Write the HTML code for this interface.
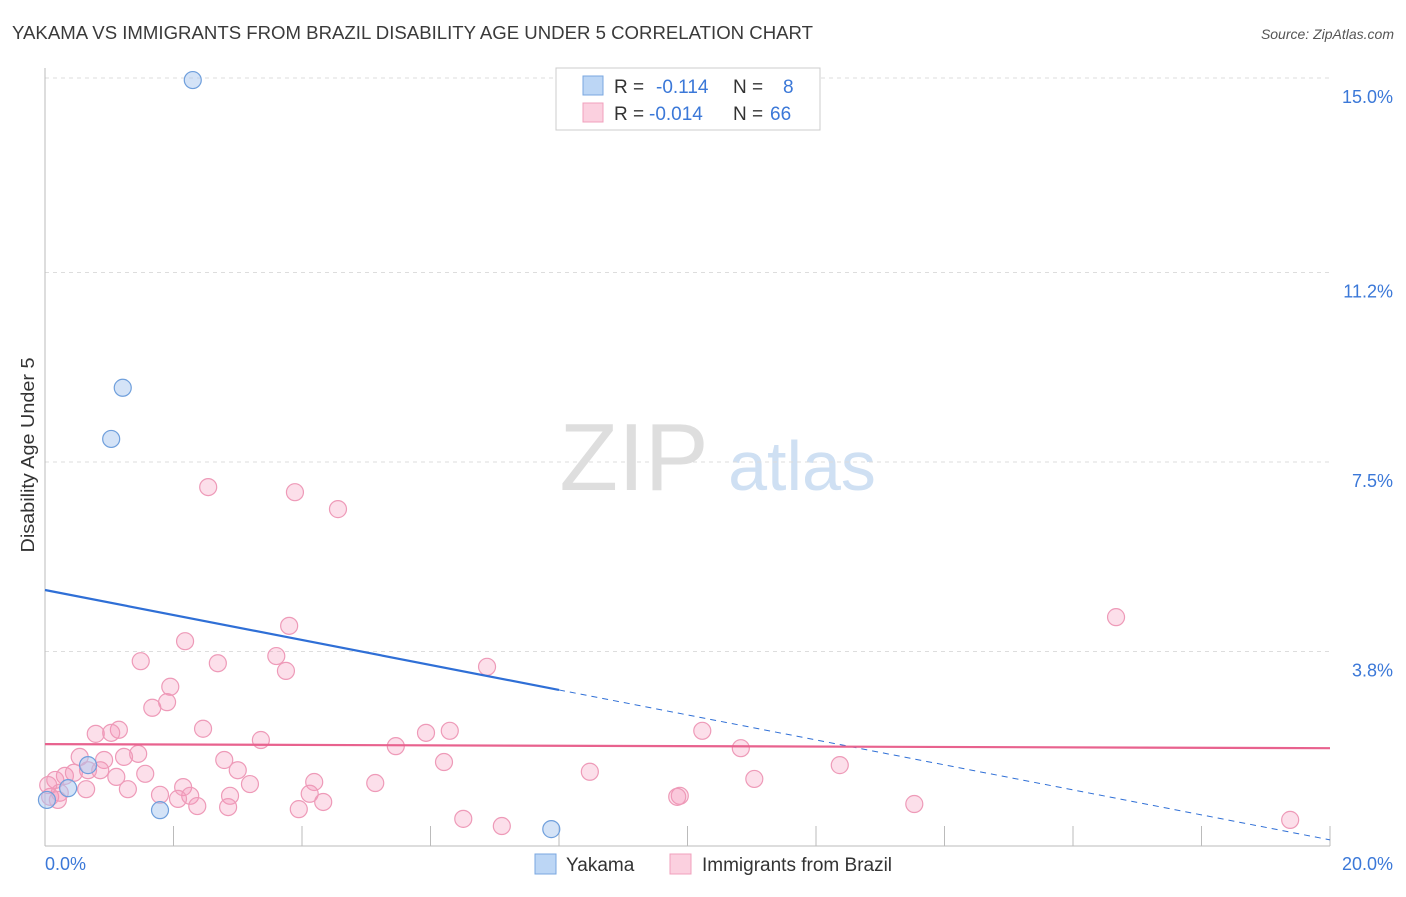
<!DOCTYPE html>
<html><head><meta charset="utf-8"><style>
body{margin:0;background:#fff;font-family:"Liberation Sans",sans-serif;}
svg text{font-family:"Liberation Sans",sans-serif;}
</style></head><body>
<svg id="chart" width="1406" height="892" xmlns="http://www.w3.org/2000/svg">
<text x="12" y="39" font-size="18" textLength="801" lengthAdjust="spacingAndGlyphs" fill="#3a3a3a">YAKAMA VS IMMIGRANTS FROM BRAZIL DISABILITY AGE UNDER 5 CORRELATION CHART</text>
<text x="1394" y="39" font-size="14" fill="#555" font-style="italic" text-anchor="end">Source: ZipAtlas.com</text>
<g>
<text x="634" y="490" font-size="96" fill="#dedede" font-family="Liberation Serif" text-anchor="middle">ZIP</text>
<text x="802" y="490" font-size="70" fill="#cfe0f3" text-anchor="middle">atlas</text>
</g>
<g id="grid"></g>
<g id="axes"></g>
<g id="marks"></g>
<text transform="translate(34,455) rotate(-90)" font-size="18" textLength="195" lengthAdjust="spacingAndGlyphs" fill="#333" text-anchor="middle">Disability Age Under 5</text>
<g>
<rect x="556" y="68" width="264" height="62" fill="#fff" stroke="#ccc"/>
<rect x="583" y="76" width="20" height="19" fill="#bcd6f5" stroke="#7aa7e0"/>
<rect x="583" y="103" width="20" height="19" fill="#fbd0df" stroke="#f0a0bc"/>
<text x="614" y="93" font-size="19" fill="#333">R =</text><text x="656" y="93" font-size="19" fill="#3b78d8">-0.114</text>
<text x="733" y="93" font-size="19" fill="#333">N =</text><text x="783" y="93" font-size="19" fill="#3b78d8">8</text>
<text x="614" y="120" font-size="19" fill="#333">R =</text><text x="649" y="120" font-size="19" fill="#3b78d8">-0.014</text>
<text x="733" y="120" font-size="19" fill="#333">N =</text><text x="770" y="120" font-size="19" fill="#3b78d8">66</text>
</g>
<g>
<rect x="535" y="854" width="21" height="20" fill="#bcd6f5" stroke="#7aa7e0"/>
<text x="566" y="871" font-size="19" fill="#333">Yakama</text>
<rect x="670" y="854" width="21" height="20" fill="#fbd0df" stroke="#f0a0bc"/>
<text x="702" y="871" font-size="19" fill="#333">Immigrants from Brazil</text>
</g>
</svg>
<script>
const yTicks=[15.0,11.2,7.5,3.8];
const yTickLabels=["15.0%","11.2%","7.5%","3.8%"];
const xTickLabels=["0.0%","20.0%"];
const yakamaX=[2.30,1.21,1.03,0.67,0.36,0.03,1.79,7.88];
const yakamaY=[14.96,8.95,7.95,1.58,1.13,0.90,0.70,0.33];
const brazilX=[2.54,3.89,4.56,16.67,3.80,2.18,1.49,2.69,3.60,3.75,6.88,1.95,1.90,1.67,2.46,1.15,0.79,1.03,6.30,5.93,10.23,3.36,5.46,10.83,1.45,1.23,0.54,2.79,0.92,6.21,12.37,3.00,1.56,8.48,0.31,1.11,0.45,0.16,11.04,4.19,5.14,3.19,2.15,0.64,1.29,1.79,2.26,2.07,2.88,4.12,9.88,9.84,0.23,0.08,4.33,2.37,2.85,3.95,13.53,6.51,7.11,19.38,0.67,0.20,0.05,0.86];
const brazilY=[7.01,6.91,6.58,4.47,4.30,4.00,3.61,3.57,3.71,3.42,3.50,3.11,2.81,2.70,2.29,2.27,2.19,2.21,2.25,2.21,2.25,2.07,1.95,1.91,1.80,1.74,1.74,1.68,1.68,1.64,1.58,1.48,1.41,1.45,1.37,1.35,1.43,1.29,1.31,1.25,1.23,1.21,1.15,1.11,1.11,1.00,0.98,0.92,0.98,1.02,0.98,0.96,1.04,0.96,0.86,0.78,0.76,0.72,0.82,0.53,0.39,0.51,1.48,0.90,1.19,1.48];
const yakamaTrend=[5.0,0.12];
const brazilTrend=[1.99,1.91];
const xMax=20;
const X=v=>45+v*(1330-45)/xMax;
const Y=v=>846-v*51.2;
const NS="http://www.w3.org/2000/svg";
function mk(parent,tag,attrs){const e=document.createElementNS(NS,tag);for(const k in attrs)e.setAttribute(k,attrs[k]);document.getElementById(parent).appendChild(e);return e;}
yTicks.forEach((t,i)=>{
 const l=mk('grid','line',{x1:45,x2:1330,y1:Y(t),y2:Y(t),stroke:'#ddd','stroke-dasharray':'4,4'});
 
 
 const tx=mk('grid','text',{x:1393,y:Y(t)+25,'font-size':18,fill:'#3b78d8','text-anchor':'end'});
 tx.textContent=yTickLabels[i];
 
 
});
let a=mk('axes','line',{x1:45,x2:45,y1:68,y2:846,stroke:'#bbb'});


a=mk('axes','line',{x1:45,x2:1330,y1:846,y2:846,stroke:'#bbb'});


for(let i=1;i<=10;i++){
 const t=mk('axes','line',{x1:X(i*2),x2:X(i*2),y1:826,y2:846,stroke:'#bbb'});
 
 
}
[[0,'start',X(0)],[1,'end',1393]].forEach(([i,an,x])=>{
 const t=mk('axes','text',{x:x,y:870,'font-size':18,fill:'#3b78d8','text-anchor':an});
 t.textContent=xTickLabels[i];
 
 
});
brazilX.forEach((v,i)=>{
 const c=mk('marks','circle',{cx:X(v),cy:Y(brazilY[i]),r:8.5,fill:'rgba(244,150,185,0.3)',stroke:'#ee9ab8','stroke-width':1.2});
 
 
});
yakamaX.forEach((v,i)=>{
 const c=mk('marks','circle',{cx:X(v),cy:Y(yakamaY[i]),r:8.5,fill:'rgba(170,200,240,0.5)',stroke:'#6f9fdc','stroke-width':1.2});
 
 
});
const yt=x=>yakamaTrend[0]+(yakamaTrend[1]-yakamaTrend[0])*x/xMax;
let ln=mk('marks','line',{x1:X(0),y1:Y(yt(0)),x2:X(8),y2:Y(yt(8)),stroke:'#2f6fd6','stroke-width':2.2});


ln=mk('marks','line',{x1:X(8),y1:Y(yt(8)),x2:X(20),y2:Y(yt(20)),stroke:'#2f6fd6','stroke-width':1,'stroke-dasharray':'6,5'});


ln=mk('marks','line',{x1:X(0),y1:Y(brazilTrend[0]),x2:X(20),y2:Y(brazilTrend[1]),stroke:'#e8628e','stroke-width':2.2});


</script>
</body></html>
